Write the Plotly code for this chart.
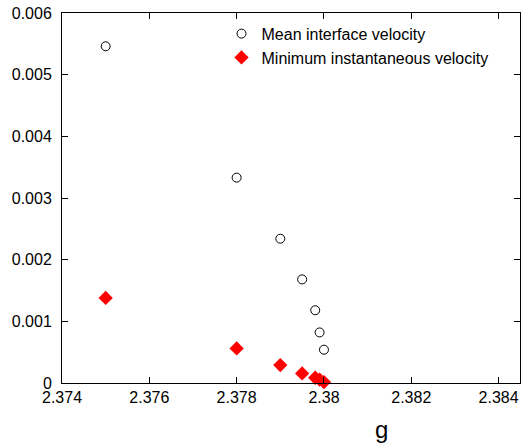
import plotly.graph_objects as go

g_mean = [2.375, 2.378, 2.379, 2.3795, 2.3798, 2.3799, 2.38]
v_mean = [0.00546, 0.00333, 0.00234, 0.00168, 0.00118, 0.00082, 0.00054]
g_min = [2.375, 2.378, 2.379, 2.3795, 2.3798, 2.3799, 2.38]
v_min = [0.00138, 0.00056, 0.00029, 0.000155, 0.000085, 0.000055, 0.000015]

x_ticks = [2.374, 2.376, 2.378, 2.38, 2.382, 2.384]
x_labels = ["2.374", "2.376", "2.378", "2.38", "2.382", "2.384"]
y_ticks = [0, 0.001, 0.002, 0.003, 0.004, 0.005, 0.006]
y_labels = ["0", "0.001", "0.002", "0.003", "0.004", "0.005", "0.006"]

font = "Liberation Sans, Arial, Helvetica, sans-serif"

fig = go.Figure()
fig.add_trace(go.Scatter(
    x=g_mean, y=v_mean, mode="markers", name="Mean interface velocity",
    marker=dict(symbol="circle-open", size=9, color="black", line=dict(width=1, color="black")),
    cliponaxis=False,
))
fig.add_trace(go.Scatter(
    x=g_min, y=v_min, mode="markers", name="Minimum instantaneous velocity",
    marker=dict(symbol="diamond", size=11, color="#ff0000", line=dict(width=0)),
    cliponaxis=False,
))

axis_common = dict(
    showgrid=False, zeroline=False, showline=True, linecolor="black", linewidth=1,
    mirror="ticks", ticks="inside", ticklen=6, tickcolor="black", tickwidth=1,
    tickfont=dict(family=font, size=16, color="black"),
    ticklabeloverflow="allow",
)

W, H = 521, 444
ML, MR, MT, MB = 62, 1, 13, 61
plot_w = W - ML - MR
plot_h = H - MT - MB

fig.update_layout(
    width=W, height=H,
    margin=dict(l=ML, r=MR, t=MT, b=MB),
    paper_bgcolor="white", plot_bgcolor="white",
    showlegend=True,
    legend=dict(
        x=(221.5 - 62) / plot_w, y=0.99, xanchor="left", yanchor="top",
        bgcolor="rgba(0,0,0,0)", borderwidth=0,
        font=dict(family=font, size=16, color="black"),
        itemsizing="trace", tracegroupgap=0, itemwidth=30,
    ),
    xaxis=dict(range=[2.374, 2.38449], tickvals=x_ticks, ticktext=x_labels, **axis_common),
    yaxis=dict(range=[0, 0.006], tickvals=y_ticks, ticktext=y_labels,
               ticklabelstandoff=6, **axis_common),
    annotations=[dict(
        text="g", x=(390 - 62) / plot_w, y=-(430 - 383.5) / plot_h,
        xref="paper", yref="paper", showarrow=False, yanchor="middle",
        font=dict(family=font, size=24, color="black"),
    )],
)

fig.write_html(
    "out.html",
    config={"displayModeBar": False},
    post_script="document.body.style.margin='0';document.body.style.overflow='hidden';",
)
